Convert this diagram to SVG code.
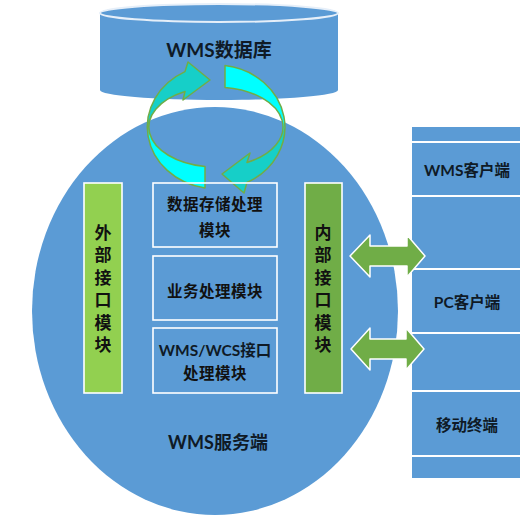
<svg xmlns="http://www.w3.org/2000/svg" width="522" height="522" viewBox="0 0 522 522">
<style>
.blue{fill:#5b9bd5}
.box{fill:none;stroke:#ffffff;stroke-width:1.6}
.lbl{font-family:Lato,"Noto Sans CJK SC",sans-serif;font-weight:bold;fill:#0f1a26;text-anchor:middle;dominant-baseline:central}
.cjk{font-family:"Noto Sans CJK SC",sans-serif;font-weight:bold;fill:#111111;text-anchor:middle;dominant-baseline:central}
.vert{font-family:"Noto Sans CJK SC",sans-serif;font-weight:bold;fill:#111111;font-size:17px;writing-mode:vertical-rl;text-orientation:upright;letter-spacing:5.4px}
.ring{stroke:#70ad47;stroke-width:1.5;stroke-linejoin:round}
.dbl{fill:#70ad47;stroke:#ffffff;stroke-width:1.5;stroke-linejoin:round}
</style>
<defs>
<linearGradient id="gL" x1="0" y1="0" x2="0" y2="1">
<stop offset="0" stop-color="#16cfc8"/><stop offset="0.48" stop-color="#16cfc8"/><stop offset="0.52" stop-color="#00ffff"/><stop offset="1" stop-color="#00ffff"/>
</linearGradient>
<linearGradient id="gR" x1="0" y1="0" x2="0" y2="1">
<stop offset="0" stop-color="#00ffff"/><stop offset="0.48" stop-color="#00ffff"/><stop offset="0.52" stop-color="#16cfc8"/><stop offset="1" stop-color="#16cfc8"/>
</linearGradient>
</defs>
<rect width="522" height="522" fill="#ffffff"/>

<g id="database">
<path class="blue" d="M100 13 L100 90 A119 10 0 0 0 338 90 L338 13 Z"/>
<ellipse cx="219" cy="13" rx="119" ry="9" fill="#5b9bd5" stroke="#e6eff9" stroke-width="2"/>
<text class="lbl" x="219" y="49" font-size="19">WMS数据库</text>
</g>

<g id="server">
<ellipse class="blue" cx="215" cy="311" rx="183" ry="204"/>
<text class="lbl" x="218" y="442" font-size="18">WMS服务端</text>
</g>

<g id="sync-arrows">
<path class="ring" fill="url(#gL)" d="M205 188 A69 62 0 0 1 185 71.6 L188 62 L210 80 L183 100 L185 91.5 A67 40 0 0 0 205 166.5 Z"/>
<path class="ring" fill="url(#gR)" d="M225 65.6 A69 62 0 0 1 247 182.4 L244 193 L222 174 L250 153 L247 162.5 A67 40 0 0 0 225 87.4 Z"/>
</g>

<g id="external-interface">
<rect x="84" y="183" width="38" height="210" fill="#92d050" stroke="#ffffff" stroke-width="1.6"/>
<text class="vert" x="103" y="224">外部接口模块</text>
</g>

<g id="internal-interface">
<rect x="305" y="183" width="37" height="210" fill="#70ad47" stroke="#ffffff" stroke-width="1.6"/>
<text class="vert" x="323" y="224">内部接口模块</text>
</g>

<g id="storage-module">
<rect class="box" x="153" y="183" width="124" height="64"/>
<text class="cjk" font-size="15.5" letter-spacing="0.5" x="215" y="203">数据存储处理</text>
<text class="cjk" font-size="15.5" letter-spacing="0.5" x="215" y="229">模块</text>
</g>

<g id="business-module">
<rect class="box" x="153" y="256" width="124" height="64"/>
<text class="cjk" font-size="15.5" letter-spacing="0.5" x="215" y="290">业务处理模块</text>
</g>

<g id="wcs-module">
<rect class="box" x="153" y="328" width="124" height="65"/>
<text class="lbl" font-size="15.5" x="215" y="350">WMS/WCS接口</text>
<text class="cjk" font-size="15.5" letter-spacing="0.5" x="215" y="372">处理模块</text>
</g>

<g id="clients">
<rect class="blue" x="412" y="127" width="108" height="351"/>
<g stroke="#ffffff" stroke-width="2">
<line x1="412" y1="142" x2="520" y2="142"/>
<line x1="412" y1="196" x2="520" y2="196"/>
<line x1="412" y1="269" x2="520" y2="269"/>
<line x1="412" y1="333" x2="520" y2="333"/>
<line x1="412" y1="391" x2="520" y2="391"/>
<line x1="412" y1="456" x2="520" y2="456"/>
</g>
</g>
<g id="wms-client"><text class="lbl" font-size="15.5" x="467" y="170">WMS客户端</text></g>
<g id="pc-client"><text class="lbl" font-size="15.5" x="467" y="302">PC客户端</text></g>
<g id="mobile-client"><text class="lbl" font-size="15.5" x="467" y="425">移动终端</text></g>

<g id="connectors">
<path class="dbl" d="M350 256 L370 235 L370 246 L407 246 L407 235 L425 256 L407 277 L407 266 L370 266 L370 277 Z"/>
<path class="dbl" d="M351 349 L370 328 L370 339 L406 339 L406 328 L424 349 L406 370 L406 359 L370 359 L370 370 Z"/>
</g>
</svg>
